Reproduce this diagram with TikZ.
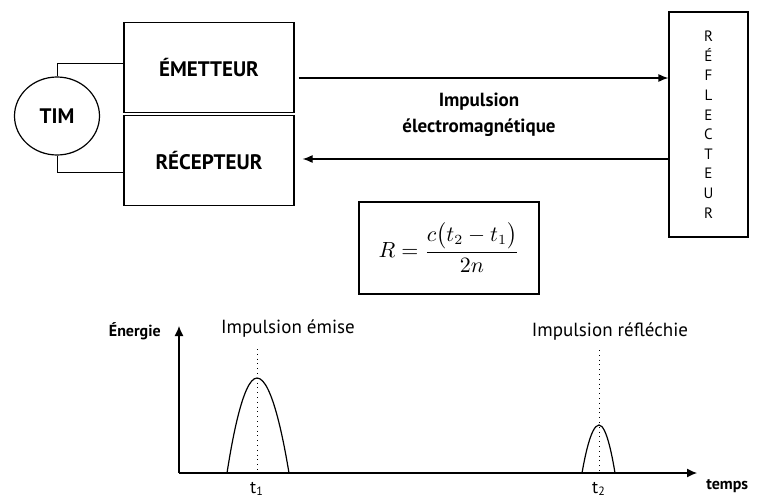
\documentclass[tikz,border=0pt]{standalone}
\usepackage{amsmath}
\usepackage{fontspec}
\setmainfont{PT Sans}
\usetikzlibrary{shapes.geometric,arrows.meta,positioning,calc}

\begin{document}
\begin{tikzpicture}[
  x=0.5pt, y=-0.5pt, line width=0.6pt,
  bloc/.style={rectangle, draw, minimum width=85pt, minimum height=45pt,
               font=\fontsize{10.5}{12}\selectfont\bfseries},
  sig/.style={-{Latex[length=5pt,width=4pt]}},
  axe/.style={-{Latex[length=5pt,width=4.5pt]}},
  fil/.style={draw, line width=0.5pt},
  pointille/.style={dotted, line width=0.4pt},
  lbl/.style={font=\fontsize{9.5}{11}\selectfont},
]
\useasboundingbox (0,0) rectangle (764,503);

%-- Top: emitter / receiver / reflector
\node[ellipse, draw, minimum width=42.5pt, minimum height=39pt,
      font=\fontsize{10.5}{12}\selectfont\bfseries] (tim) at (57,116) {TIM};
\node[bloc] (emet)  at (209,67.5)  {ÉMETTEUR};
\node[bloc] (recep) at (209,160.5) {RÉCEPTEUR};
\node[rectangle, draw, minimum width=39.5pt, minimum height=112.5pt,
      align=center, font=\fontsize{7.5}{9.8}\selectfont]
  (refl) at (708.5,124.5) {R\\É\\F\\L\\E\\C\\T\\E\\U\\R};

\draw[fil] (tim.north) |- ([yshift=2.25pt]emet.west);
\draw[fil] (tim.south) |- ([yshift=-5.75pt]recep.west);

\draw[sig] ([xshift=2pt,yshift=-5.25pt]emet.east)
  -- ([yshift=-5.25pt]emet.east -| refl.west);
\draw[sig] ([yshift=0.75pt]recep.east -| refl.west)
  -- ([xshift=4pt,yshift=0.75pt]recep.east);

\node[align=center, font=\fontsize{9.5}{13}\selectfont\bfseries]
  (impuls) at (479,115) {Impulsion\\électromagnétique};

\node[rectangle, draw, minimum width=90pt, minimum height=46pt,
      font=\fontsize{10.5}{12}\selectfont] (formule) at (449,248)
  {$R=\dfrac{c\bigl(t_2-t_1\bigr)}{2n}$};

%-- Bottom: energy vs time
\coordinate (O)  at (179,473);
\coordinate (Ey) at (179,326);
\coordinate (Tx) at (697,473);
\draw[axe] (O) -- (Ey);
\draw[axe] (O) -- (Tx);
\node[anchor=east, font=\fontsize{8}{9}\selectfont\bfseries]
  (energie) at ([xshift=-5.5pt,yshift=-2.5pt]Ey) {Énergie};
\node[anchor=west, font=\fontsize{8}{9}\selectfont\bfseries]
  (temps) at (699,486) {temps};

% emitted pulse
\coordinate (p1) at (257,378);
\draw (227,473) parabola bend (p1) (289,473);
\draw[pointille] (257,349) -- (257,473);
\node[lbl] (emise) at (288,329) {Impulsion émise};
\node[font=\fontsize{9}{10}\selectfont] (t1) at (257,489) {t\textsubscript{1}};

% reflected pulse
\coordinate (p2) at (599,425);
\draw (582,473) parabola bend (p2) (615,473);
\draw[pointille] (599,350) -- (599,473);
\node[lbl] (reflechie) at (610,332) {Impulsion réfléchie};
\node[font=\fontsize{9}{10}\selectfont] (t2) at (599,489) {t\textsubscript{2}};

\end{tikzpicture}
\end{document}
